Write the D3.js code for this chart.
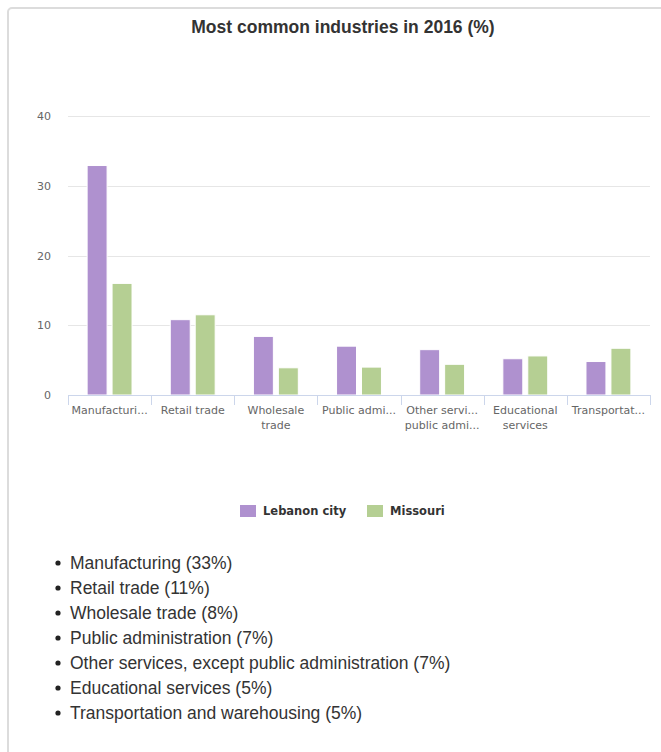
<!DOCTYPE html>
<html>
<head>
<meta charset="utf-8">
<script src="https://cdn.jsdelivr.net/npm/d3@7"></script>
<style>
  html, body { margin: 0; padding: 0; background: #fff; }
  svg { display: block; }
</style>
</head>
<body>
<div id="chart"></div>
<script>
const title = "Most common industries in 2016 (%)";
const categories = [
  "Manufacturing",
  "Retail trade",
  "Wholesale trade",
  "Public administration",
  "Other services, except public administration",
  "Educational services",
  "Transportation and warehousing"
];
const tickLabels = [
  ["Manufacturi..."],
  ["Retail trade"],
  ["Wholesale", "trade"],
  ["Public admi..."],
  ["Other servi...", "public admi..."],
  ["Educational", "services"],
  ["Transportat..."]
];
const seriesNames = ["Lebanon city", "Missouri"];
const lebanonValues = [32.9, 10.8, 8.4, 7.0, 6.5, 5.2, 4.8];
const missouriValues = [16.0, 11.5, 3.9, 4.0, 4.4, 5.6, 6.7];
const yTicks = [0, 10, 20, 30, 40];
const listItems = [
  "Manufacturing (33%)",
  "Retail trade (11%)",
  "Wholesale trade (8%)",
  "Public administration (7%)",
  "Other services, except public administration (7%)",
  "Educational services (5%)",
  "Transportation and warehousing (5%)"
];
const colors = ["#af91cf", "#b5cf93"];

const W = 661, H = 752;
const svg = d3.select("#chart").append("svg").attr("width", W).attr("height", H);

// container border (top & left visible)
svg.append("rect").attr("x", 8).attr("y", 8).attr("width", 720).attr("height", 800)
  .attr("rx", 4).attr("fill", "#fff").attr("stroke", "#dcdcdc").attr("stroke-width", 2);

// title
svg.append("text").attr("x", 343).attr("y", 33).attr("text-anchor", "middle")
  .style("font-family", "'Liberation Sans', Arial, sans-serif").style("font-weight", "bold")
  .style("font-size", "17.5px").attr("fill", "#333").text(title);

const plotL = 68, plotR = 650, plotT = 116, plotB = 395;
const x0 = d3.scaleBand().domain(categories).range([plotL, plotR]).padding(0);
const gp = x0.bandwidth() * 0.2;
const x1 = d3.scaleBand().domain(seriesNames).range([gp, x0.bandwidth() - gp])
  .paddingInner(0.2).paddingOuter(0.1);
const y = d3.scaleLinear().domain([0, 40]).range([plotB, plotT]);

// gridlines
svg.append("g").selectAll("line").data(yTicks.filter(d => d > 0)).join("line")
  .attr("x1", plotL).attr("x2", plotR)
  .attr("y1", d => Math.round(y(d)) + 0.5).attr("y2", d => Math.round(y(d)) + 0.5)
  .attr("stroke", "#e6e6e6").attr("stroke-width", 1);

// y axis labels
const yAxis = d3.axisLeft(y).tickValues(yTicks).tickSize(0).tickPadding(0).tickFormat(d3.format("d"));
const gy = svg.append("g").attr("transform", `translate(${plotL - 17},0)`).call(yAxis);
gy.select(".domain").remove();
gy.selectAll("text").style("font-family", "'DejaVu Sans', Verdana, sans-serif")
  .style("font-size", "11px").attr("fill", "#666").attr("dy", "0.32em");

// bars
const data = categories.map((c, i) => ({ cat: c, vals: [lebanonValues[i], missouriValues[i]] }));
const groups = svg.append("g").selectAll("g").data(data).join("g")
  .attr("transform", d => `translate(${x0(d.cat)},0)`);
groups.selectAll("rect").data(d => d.vals.map((v, j) => ({ name: seriesNames[j], v, j }))).join("rect")
  .attr("x", d => x1(d.name)).attr("width", x1.bandwidth())
  .attr("y", d => y(d.v)).attr("height", d => y(0) - y(d.v))
  .attr("fill", d => colors[d.j]).attr("stroke", "#fff").attr("stroke-width", 1);

// x axis
const xAxis = d3.axisBottom(x0).tickSize(0).tickFormat(() => "");
const gx = svg.append("g").attr("transform", `translate(0,${plotB + 0.5})`).call(xAxis);
gx.select(".domain").attr("stroke", "#ccd6eb").attr("d", `M${plotL},0H${plotR}`);
const bounds = categories.map(c => x0(c)).concat([plotR]);
svg.append("g").selectAll("line").data(bounds).join("line")
  .attr("x1", d => Math.round(d) + 0.5).attr("x2", d => Math.round(d) + 0.5)
  .attr("y1", plotB).attr("y2", plotB + 10).attr("stroke", "#ccd6eb");
const lbl = svg.append("g").selectAll("text").data(categories).join("text")
  .attr("x", d => x0(d) + x0.bandwidth() / 2).attr("y", plotB + 19)
  .attr("text-anchor", "middle")
  .style("font-family", "'DejaVu Sans', Verdana, sans-serif").style("font-size", "11px")
  .attr("fill", "#666");
lbl.selectAll("tspan").data((d, i) => tickLabels[i]).join("tspan")
  .attr("x", function () { return d3.select(this.parentNode).attr("x"); })
  .attr("dy", (d, i) => i === 0 ? 0 : 15).text(d => d);

// legend
const legend = svg.append("g").attr("transform", "translate(240,505)");
const legendX = [0, 127];
seriesNames.forEach((n, i) => {
  const g = legend.append("g").attr("transform", `translate(${legendX[i]},0)`);
  g.append("rect").attr("width", 16).attr("height", 12).attr("fill", colors[i]);
  g.append("text").attr("x", 23).attr("y", 10)
    .style("font-family", "'DejaVu Sans', Verdana, sans-serif").style("font-size", "11.5px")
    .style("font-weight", "bold").attr("fill", "#333").text(n);
});

// list
const list = svg.append("g").selectAll("g").data(listItems).join("g")
  .attr("transform", (d, i) => `translate(0,${563 + i * 25})`);
list.append("circle").attr("cx", 58).attr("cy", 0).attr("r", 2.6).attr("fill", "#222");
list.append("text").attr("x", 70).attr("y", 0).attr("dy", "0.35em")
  .style("font-family", "'Liberation Sans', Arial, sans-serif").style("font-size", "17.5px")
  .attr("fill", "#333").text(d => d);
</script>
</body>
</html>
